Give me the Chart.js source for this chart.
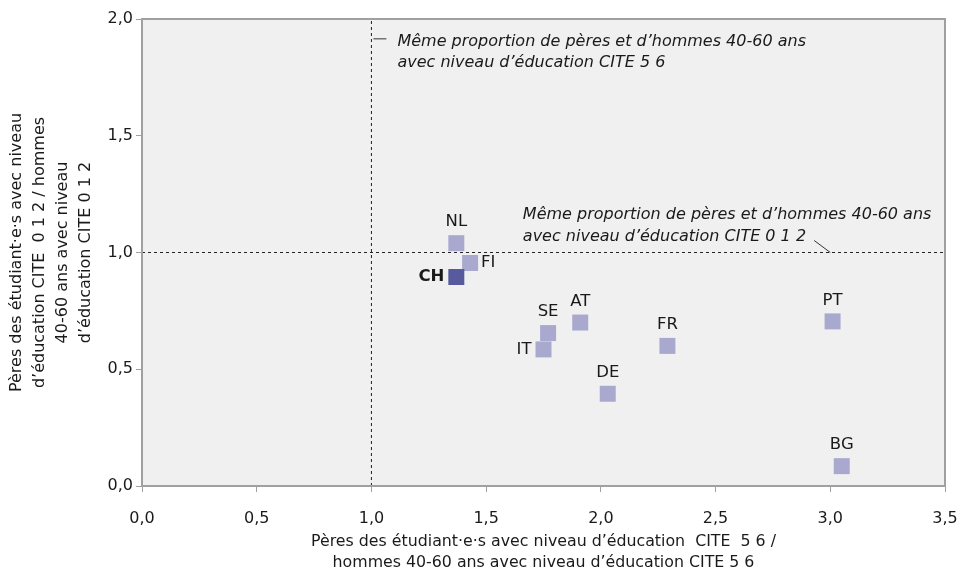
<!DOCTYPE html>
<html>
<head>
<meta charset="utf-8">
<script src="https://cdn.jsdelivr.net/npm/chart.js@4"></script>
<style>
  html, body { margin: 0; padding: 0; background: #fff; }
  #wrap { width: 960px; height: 573px; }
</style>
</head>
<body>
<div id="wrap"><canvas id="scatterChart"></canvas></div>
<script>
const countries = ["NL", "FI", "CH", "SE", "IT", "AT", "DE", "FR", "PT", "BG"];
const xValues = [1.37, 1.43, 1.37, 1.77, 1.75, 1.91, 2.03, 2.29, 3.01, 3.05];
const yValues = [1.04, 0.955, 0.895, 0.655, 0.585, 0.70, 0.395, 0.60, 0.705, 0.085];
const highlight = "CH";

const refX = 1.0;
const refY = 1.0;
const xMin = 0, xMax = 3.5, yMin = 0, yMax = 2;

const xTitle = ["Pères des étudiant·e·s avec niveau d’éducation  CITE  5 6 /",
                "hommes 40-60 ans avec niveau d’éducation CITE 5 6"];
const yTitle = ["Pères des étudiant·e·s avec niveau",
                "d’éducation CITE  0 1 2 / hommes",
                "40-60 ans avec niveau",
                "d’éducation CITE 0 1 2"];
const noteVertical = ["Même proportion de pères et d’hommes 40-60 ans",
                      "avec niveau d’éducation CITE 5 6"];
const noteHorizontal = ["Même proportion de pères et d’hommes 40-60 ans",
                        "avec niveau d’éducation CITE 0 1 2"];

const FONT = "'DejaVu Sans', sans-serif";
const LIGHT = "#a9a9cf";
const DARK = "#575b9d";
const AXIS = "#a0a0a0";

const points = countries.map((c, i) => ({ x: xValues[i], y: yValues[i], label: c }));

// where each label sits relative to its marker
const labelSide = { FI: "right", CH: "left", IT: "left" };

const areaPlugin = {
  id: "area",
  beforeDatasetsDraw(chart) {
    const { ctx, chartArea: a } = chart;
    ctx.save();
    ctx.fillStyle = "#eff0ef";
    ctx.fillRect(a.left, a.top, a.right - a.left, a.bottom - a.top);
    ctx.restore();
  },
  afterDraw(chart) {
    const { ctx, chartArea: a, scales: { x, y } } = chart;
    ctx.save();
    // frame
    ctx.strokeStyle = AXIS;
    ctx.lineWidth = 2;
    ctx.strokeRect(a.left, a.top, a.right - a.left, a.bottom - a.top);

    // point labels
    ctx.fillStyle = "#1a1a1a";
    ctx.textBaseline = "middle";
    points.forEach(p => {
      const px = x.getPixelForValue(p.x);
      const py = y.getPixelForValue(p.y);
      const side = labelSide[p.label] || "top";
      ctx.font = (p.label === highlight ? "bold " : "") + "16.5px " + FONT;
      if (side === "top") {
        ctx.textAlign = "center";
        ctx.fillText(p.label, px, py - 21);
      } else if (side === "right") {
        ctx.textAlign = "left";
        ctx.fillText(p.label, px + 11, py);
      } else {
        ctx.textAlign = "right";
        ctx.fillText(p.label, px - 12, py);
      }
    });

    // notes
    ctx.font = "italic 16px " + FONT;
    ctx.textAlign = "left";
    const vx = x.getPixelForValue(refX);
    const ny = y.getPixelForValue(1.915);
    noteVertical.forEach((t, i) => ctx.fillText(t, vx + 26, ny + 3 + i * 21));
    const hy = y.getPixelForValue(refY);
    noteHorizontal.forEach((t, i) => ctx.fillText(t, x.getPixelForValue(1.66), hy - 38 + i * 22));

    // leader lines
    ctx.strokeStyle = "#333";
    ctx.lineWidth = 1;
    ctx.beginPath();
    ctx.moveTo(vx + 2, ny);
    ctx.lineTo(vx + 15, ny);
    ctx.moveTo(x.getPixelForValue(2.93), hy - 12);
    ctx.lineTo(x.getPixelForValue(3.0), hy);
    ctx.stroke();
    ctx.restore();
  }
};

new Chart(document.getElementById("scatterChart"), {
  type: "scatter",
  data: {
    datasets: [
      {
        data: [{ x: refX, y: yMin }, { x: refX, y: yMax }],
        type: "line",
        borderColor: "#222",
        borderWidth: 1,
        borderDash: [3, 3],
        pointRadius: 0,
        order: 3,
      },
      {
        data: [{ x: xMin, y: refY }, { x: xMax, y: refY }],
        type: "line",
        borderColor: "#222",
        borderWidth: 1,
        borderDash: [3, 3],
        pointRadius: 0,
        order: 2,
      },
      {
        data: points,
        pointStyle: "rect",
        pointRadius: 11.3,
        pointHoverRadius: 11.3,
        borderWidth: 0,
        backgroundColor: points.map(p => p.label === highlight ? DARK : LIGHT),
        order: 1,
      },
    ],
  },
  options: {
    responsive: true,
    maintainAspectRatio: false,
    animation: false,
    layout: { padding: { top: 19, right: 0, left: 0, bottom: 0 } },
    plugins: { legend: { display: false }, tooltip: { enabled: false } },
    scales: {
      x: {
        type: "linear",
        min: xMin,
        max: xMax,
        ticks: {
          stepSize: 0.5,
          color: "#1a1a1a",
          font: { family: FONT, size: 16 },
          padding: 17,
          maxRotation: 0,
          callback: v => v.toFixed(1).replace(".", ","),
        },
        grid: { drawOnChartArea: false, color: AXIS, tickLength: 6, lineWidth: 1 },
        border: { color: AXIS, width: 2 },
        title: {
          display: true,
          text: xTitle,
          color: "#1a1a1a",
          font: { family: FONT, size: 15.8, lineHeight: 1.33 },
          padding: { top: 8, bottom: 0 },
        },
        afterFit: s => { s.height = 87; s.paddingRight = 15; s.paddingLeft = 0; },
      },
      y: {
        type: "linear",
        min: yMin,
        max: yMax,
        ticks: {
          stepSize: 0.5,
          color: "#1a1a1a",
          font: { family: FONT, size: 16 },
          padding: 3,
          callback: v => v.toFixed(1).replace(".", ","),
        },
        grid: { drawOnChartArea: false, color: AXIS, tickLength: 6, lineWidth: 1 },
        border: { color: AXIS, width: 2 },
        title: {
          display: true,
          text: yTitle,
          color: "#1a1a1a",
          font: { family: FONT, size: 16, lineHeight: 1.44 },
          padding: { top: 5, bottom: 0 },
        },
        afterFit: s => { s.width = 142; s.paddingTop = 0; s.paddingBottom = 0; },
      },
    },
  },
  plugins: [areaPlugin],
});
</script>
</body>
</html>
